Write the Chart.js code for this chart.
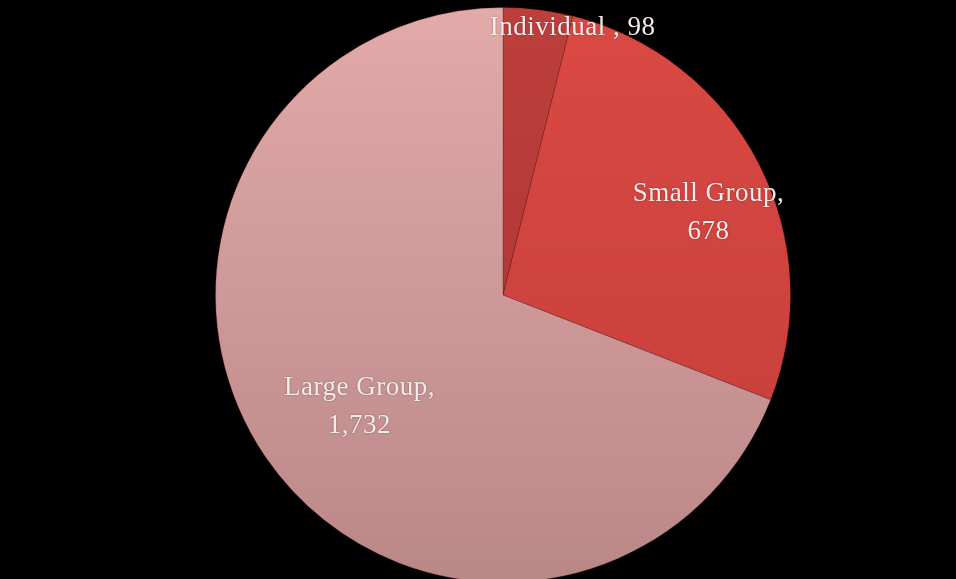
<!DOCTYPE html>
<html>
<head>
<meta charset="utf-8">
<script src="https://cdn.jsdelivr.net/npm/chart.js@4.4.1/dist/chart.umd.min.js"></script>
<style>
    html, body { margin: 0; padding: 0; background: #000; overflow: hidden; }
    #wrap { position: relative; width: 956px; height: 590px; }
</style>
</head>
<body>
<div id="wrap"><canvas id="groupChart"></canvas></div>
<script>
// data
const categories = ['Individual', 'Small Group', 'Large Group'];
const counts = [98, 678, 1732];
const valueLabels = ['98', '678', '1,732'];

// label placement: fraction of radius and angle shift (degrees) from slice middle
const labelSpots = [
    { r: 0.96, shift: 7.6, lines: i => [categories[i] + ' , ' + valueLabels[i]] },
    { r: 0.77, shift: 5.4, lines: i => [categories[i] + ',', valueLabels[i]] },
    { r: 0.633, shift: -3.6, lines: i => [categories[i] + ',', valueLabels[i]] }
];

const shades = [
    ['#bd3f3c', '#a93431'],
    ['#db4943', '#c23d39'],
    ['#e2aaa9', '#ba8787']
];

function sliceFill(context) {
    const chart = context.chart;
    const area = chart.chartArea;
    if (!area) return shades[context.dataIndex][0];
    const g = chart.ctx.createLinearGradient(0, area.top, 0, area.bottom);
    g.addColorStop(0, shades[context.dataIndex][0]);
    g.addColorStop(1, shades[context.dataIndex][1]);
    return g;
}

const sliceLabels = {
    id: 'sliceLabels',
    afterDatasetsDraw(chart) {
        const ctx = chart.ctx;
        const meta = chart.getDatasetMeta(0);
        ctx.save();
        ctx.fillStyle = '#f4ecec';
        ctx.font = '27px "Liberation Serif", serif';
        ctx.letterSpacing = '0.5px';
        ctx.textAlign = 'center';
        ctx.textBaseline = 'middle';
        ctx.shadowColor = 'rgba(0,0,0,0.35)';
        ctx.shadowBlur = 2;
        meta.data.forEach((arc, i) => {
            const p = arc.getProps(['x', 'y', 'startAngle', 'endAngle', 'outerRadius'], true);
            const spot = labelSpots[i];
            const a = (p.startAngle + p.endAngle) / 2 + spot.shift * Math.PI / 180;
            const cx = p.x + Math.cos(a) * p.outerRadius * spot.r;
            const cy = p.y + Math.sin(a) * p.outerRadius * spot.r;
            const lines = spot.lines(i);
            const lh = 38;
            lines.forEach((t, k) => {
                ctx.fillText(t, cx, cy + (k - (lines.length - 1) / 2) * lh);
            });
        });
        ctx.restore();
    }
};

const groupChart = new Chart(document.getElementById('groupChart'), {
    type: 'pie',
    data: {
        labels: categories,
        datasets: [{
            data: counts,
            backgroundColor: sliceFill,
            borderColor: 'rgba(90,20,20,0.3)',
            borderWidth: 1
        }]
    },
    options: {
        responsive: true,
        maintainAspectRatio: false,
        animation: false,
        layout: { padding: { top: 7, bottom: 7, left: 50, right: 0 } },
        plugins: {
            legend: { display: false },
            tooltip: { enabled: false }
        }
    },
    plugins: [sliceLabels]
});
</script>
</body>
</html>
